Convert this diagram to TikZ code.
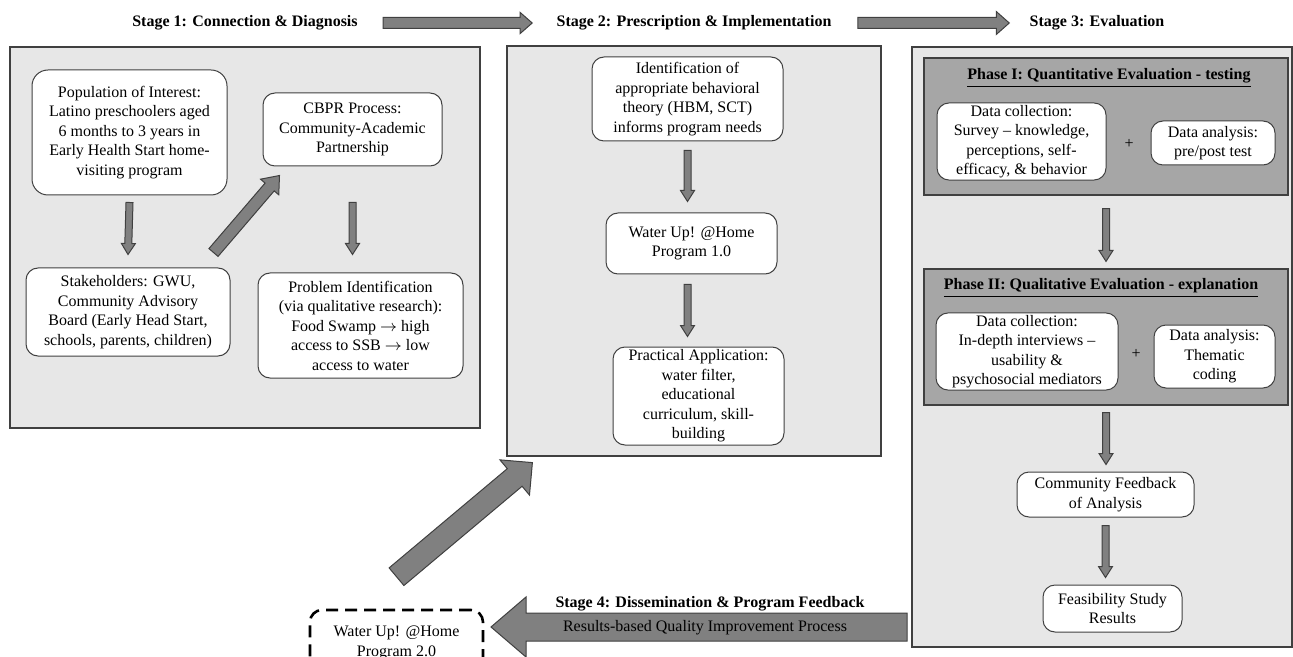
\documentclass[tikz,border=0pt]{standalone}
\usepackage{fontspec}
\setmainfont{Liberation Serif}
\usetikzlibrary{calc}

\definecolor{panelgray}{RGB}{231,231,231}
\definecolor{phasegray}{RGB}{166,166,166}
\definecolor{arrowgray}{RGB}{128,128,128}
\definecolor{edgegray}{RGB}{64,64,64}

\newcommand{\boxfont}{\fontsize{8}{9.75}\selectfont}

% block arrow: from, to, half body, half head, head length (in pt)
\newcommand{\fatarrow}[5]{%
  \draw[fatarr] let \p1=(#1), \p2=(#2),
      \n1={atan2(\y2-\y1,\x2-\x1)}, \n2={veclen(\x2-\x1,\y2-\y1)} in
    ($(\p1)+(\n1+90:#3pt)$) -- ($(\p1)+(\n1:\n2-#5pt)+(\n1+90:#3pt)$)
    -- ($(\p1)+(\n1:\n2-#5pt)+(\n1+90:#4pt)$) -- (\p2)
    -- ($(\p1)+(\n1:\n2-#5pt)+(\n1-90:#4pt)$)
    -- ($(\p1)+(\n1:\n2-#5pt)+(\n1-90:#3pt)$)
    -- ($(\p1)+(\n1-90:#3pt)$) -- cycle;}

\begin{document}
\begin{tikzpicture}[x=0.5pt,y=-0.5pt,
    box/.style={draw=edgegray, fill=white, rounded corners=6pt, align=center,
      inner sep=1pt, font=\boxfont, line width=0.5pt},
    sz/.style 2 args={minimum width=#1*0.5pt, minimum height=#2*0.5pt},
    panel/.style={draw=edgegray, fill=panelgray, line width=0.6pt, inner sep=0pt},
    phase/.style={draw=edgegray, fill=phasegray, line width=0.6pt, inner sep=0pt},
    stagetitle/.style={font=\boxfont\bfseries, inner sep=0pt},
    fatarr/.style={draw=edgegray, fill=arrowgray, line width=0.5pt, line join=miter}]
  \useasboundingbox (0,0) rectangle (1293,657);

  % stage titles
  \node[stagetitle] (st1) at (245,23) {Stage 1: Connection \& Diagnosis};
  \node[stagetitle] (st2) at (694,23) {Stage 2: Prescription \& Implementation};
  \node[stagetitle] (st3) at (1097,23) {Stage 3: Evaluation};
  \fatarrow{[xshift=12.5pt]st1.east}{[xshift=-12pt]st2.west}{2.75}{5.25}{6}
  \fatarrow{[xshift=13pt]st2.east}{[xshift=-10pt]st3.west}{2.75}{5.75}{6.5}

  % panels
  \node[panel, sz={470}{381}] (p1) at (245,237.5) {};
  \node[panel, sz={374}{410}] (p2) at (694,251) {};
  \node[panel, sz={380}{600}] (p3) at (1102,347) {};
  \node[phase, sz={364}{137}] (ph1) at (1106,126.5) {};
  \node[phase, sz={364}{136}] (ph2) at (1106,337) {};

  % stage 1
  \node[box, sz={195}{125}, rounded corners=8pt] (pop) at (129.5,132.5)
    {Population of Interest:\\Latino preschoolers aged\\6 months to 3 years in\\Early Health Start home-\\visiting program};
  \node[box, sz={179}{73}] (cbpr) at (352.5,129.5)
    {CBPR Process:\\Community-Academic\\Partnership};
  \node[box, sz={204}{88}] (stake) at (128,312)
    {Stakeholders: GWU,\\Community Advisory\\Board (Early Head Start,\\schools, parents, children)};
  \node[box, sz={205}{105}] (prob) at (360.5,325.5)
    {Problem Identification\\(via qualitative research):\\Food Swamp $\rightarrow$ high\\access to SSB $\rightarrow$ low\\access to water};
  \fatarrow{[yshift=-3.5pt]pop.south}{[yshift=6.5pt]stake.north}{1.75}{3.5}{5.5}
  \fatarrow{[shift={(-8.5pt,7.5pt)}]stake.north east}{[shift={(8.5pt,-4.5pt)}]cbpr.south west}{3}{6}{7.5}
  \fatarrow{[yshift=-18pt]cbpr.south}{[shift={(-4pt,9pt)}]prob.north}{1.75}{3.5}{5.5}

  % stage 2
  \node[box, sz={191}{84}] (ident) at (687.5,99)
    {Identification of\\appropriate behavioral\\theory (HBM, SCT)\\informs program needs};
  \node[box, sz={171}{61}] (wu1) at (691.5,243.5) {Water Up! @Home\\Program 1.0};
  \node[box, sz={171}{98}] (pract) at (698.5,396)
    {Practical Application:\\water filter,\\educational\\curriculum, skill-\\building};
  \fatarrow{[yshift=-4.5pt]ident.south}{[yshift=5.5pt]ident.south |- wu1.north}{1.75}{3.5}{5.5}
  \fatarrow{[yshift=-5pt]ident.south |- wu1.south}{[yshift=5pt]ident.south |- pract.north}{1.75}{3.5}{5.5}

  % stage 3
  \node[stagetitle] (ph1t) at (1109,78) {\underline{Phase I: Quantitative Evaluation - testing}};
  \node[box, sz={169}{77}] (dc1) at (1021.5,141.5)
    {Data collection:\\Survey -- knowledge,\\perceptions, self-\\efficacy, \& behavior};
  \node[font=\boxfont] (plus1) at (1129,144) {+};
  \node[box, sz={124}{44}] (da1) at (1213,143) {Data analysis:\\pre/post test};
  \node[stagetitle] (ph2t) at (1101,288) {\underline{Phase II: Qualitative Evaluation - explanation}};
  \node[box, sz={182}{77}] (dc2) at (1027,351.5)
    {Data collection:\\In-depth interviews --\\usability \&\\psychosocial mediators};
  \node[font=\boxfont] (plus2) at (1136,354) {+};
  \node[box, sz={121}{63}] (da2) at (1214.5,356.5) {Data analysis:\\Thematic\\coding};
  \node[box, sz={177}{45}] (comm) at (1105.5,494.5) {Community Feedback\\of Analysis};
  \node[box, sz={139}{47}] (feas) at (1112.5,608.5) {Feasibility Study\\Results};
  \fatarrow{[yshift=-6.5pt]ph1.south}{[yshift=3.5pt]ph2.north}{1.75}{3.5}{5.5}
  \fatarrow{[yshift=-3.5pt]ph2.south}{[yshift=3.5pt]ph2.south |- comm.north}{1.75}{3.5}{5.5}
  \fatarrow{[yshift=-4pt]comm.south}{[yshift=3.5pt]comm.south |- feas.north}{1.75}{3.5}{5.5}

  % stage 4
  \node[box, sz={173}{66}, line width=1.3pt, dash pattern=on 6pt off 3.5pt,
    draw=black] (wu2) at (396.5,643) {Water Up! @Home\\Program 2.0};
  \coordinate (fbtail) at (907,627);
  \coordinate (fbtip) at (491,627);
  \fatarrow{fbtail}{fbtip}{7}{15}{17.5}
  \node[stagetitle] (st4) at (710,604) {Stage 4: Dissemination \& Program Feedback};
  \node[font=\boxfont] (rbq) at (705,628) {Results-based Quality Improvement Process};
  \fatarrow{[yshift=16pt]wu2.north}{[shift={(13pt,-3pt)}]p2.south west}{5.75}{11.5}{11.5}
\end{tikzpicture}
\end{document}
